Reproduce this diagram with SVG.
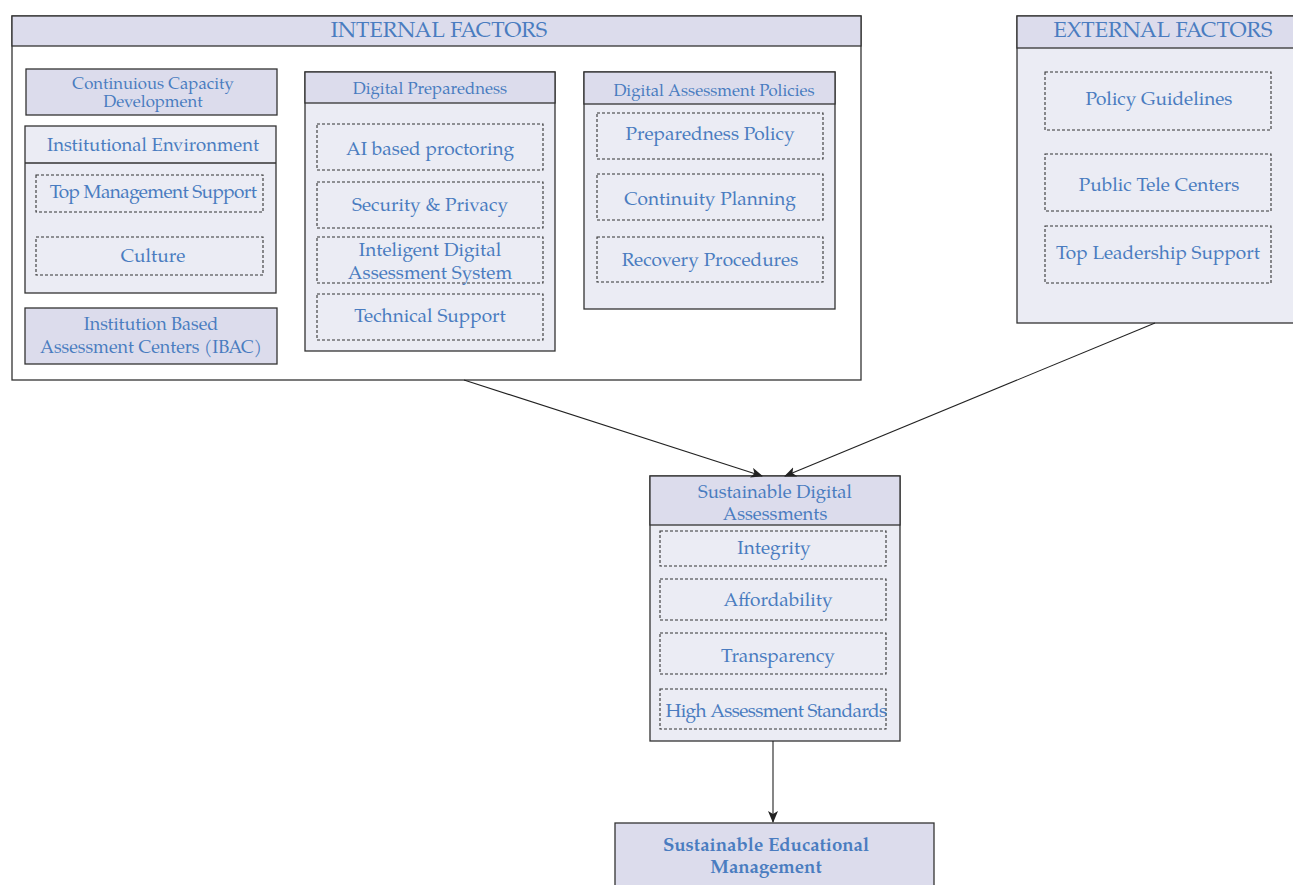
<svg xmlns="http://www.w3.org/2000/svg" width="1293" height="885" viewBox="0 0 1293 885">
<defs>
<style>
text{font-family:"TeX Gyre Pagella","Palatino Linotype","DejaVu Serif","Liberation Serif",serif;fill:#4a7cc0;text-anchor:middle;dominant-baseline:central}
.hd{fill:#dcdcec;stroke:#333;stroke-width:1.3}
.bd{fill:#ebecf4;stroke:#333;stroke-width:1.3}
.wh{fill:#fff;stroke:#333;stroke-width:1.3}
.ds{fill:none;stroke:#333;stroke-width:1.1;stroke-dasharray:3,2}
.t20{font-size:21.8px}
.t19{font-size:19px}
.t18{font-size:18.5px}
.t15{font-size:16.7px}
.b{font-weight:bold}
.cn{stroke:#222;stroke-width:1.1;fill:none}
</style>
<marker id="ah" markerWidth="12" markerHeight="10" refX="11" refY="5" orient="auto" markerUnits="userSpaceOnUse">
<path d="M0,0 L12,5 L0,10 L3,5 Z" fill="#222"/>
</marker>
</defs>

<g id="internal">
<rect class="wh" x="12" y="16" width="849" height="364"/>
<rect class="hd" x="12" y="16" width="849" height="30"/>
<text class="t20" x="439" y="32">INTERNAL FACTORS</text>
</g>

<g id="capacity">
<rect class="hd" x="26" y="69" width="251" height="46"/>
<text class="t15" x="153" y="85">Continuious Capacity</text>
<text class="t15" x="153" y="103">Development</text>
</g>

<g id="institutional">
<rect class="bd" x="25" y="126" width="251" height="167"/>
<line x1="25" y1="163" x2="276" y2="163" stroke="#333" stroke-width="1.3"/>
<text class="t18" x="153" y="147">Institutional Environment</text>
<rect class="ds" x="36" y="175" width="227" height="37"/>
<text class="t19" x="153" y="193" letter-spacing="-0.6">Top Management Support</text>
<rect class="ds" x="36" y="237" width="227" height="38"/>
<text class="t19" x="153" y="257">Culture</text>
</g>

<g id="ibac">
<rect class="hd" x="25" y="308" width="252" height="56"/>
<text class="t18" x="151" y="326" style="font-size:18px">Institution Based</text>
<text class="t18" x="151" y="349" style="font-size:18px">Assessment Centers (IBAC)</text>
</g>

<g id="preparedness">
<rect class="bd" x="305" y="72" width="250" height="279"/>
<rect class="hd" x="305" y="72" width="250" height="31"/>
<text class="t15" x="430" y="90">Digital Preparedness</text>
<rect class="ds" x="317" y="124" width="226" height="46"/>
<text class="t19" x="430" y="150">AI based proctoring</text>
<rect class="ds" x="317" y="182" width="226" height="46"/>
<text class="t19" x="430" y="206">Security &amp; Privacy</text>
<rect class="ds" x="317" y="237" width="226" height="46"/>
<text class="t19" x="430" y="251">Inteligent Digital</text>
<text class="t19" x="430" y="274">Assessment System</text>
<rect class="ds" x="317" y="294" width="226" height="46"/>
<text class="t19" x="430" y="317">Technical Support</text>
</g>

<g id="policies">
<rect class="bd" x="584" y="72" width="251" height="237"/>
<rect class="hd" x="584" y="72" width="251" height="32"/>
<text class="t15" x="714" y="92">Digital Assessment Policies</text>
<rect class="ds" x="597" y="113" width="226" height="46"/>
<text class="t19" x="710" y="135">Preparedness Policy</text>
<rect class="ds" x="597" y="174" width="226" height="46"/>
<text class="t19" x="710" y="200">Continuity Planning</text>
<rect class="ds" x="597" y="237" width="226" height="45"/>
<text class="t19" x="710" y="261">Recovery Procedures</text>
</g>

<g id="external">
<rect class="bd" x="1017" y="16" width="280" height="307"/>
<rect class="hd" x="1017" y="16" width="280" height="32"/>
<text class="t20" x="1163" y="32">EXTERNAL FACTORS</text>
<rect class="ds" x="1045" y="72" width="226" height="58"/>
<text class="t19" x="1159" y="100">Policy Guidelines</text>
<rect class="ds" x="1045" y="154" width="226" height="57"/>
<text class="t19" x="1159" y="186">Public Tele Centers</text>
<rect class="ds" x="1045" y="226" width="226" height="57"/>
<text class="t19" x="1158" y="254">Top Leadership Support</text>
</g>

<g id="sda">
<rect class="bd" x="650" y="476" width="250" height="265"/>
<rect class="hd" x="650" y="476" width="250" height="49"/>
<text class="t18" x="775" y="494">Sustainable Digital</text>
<text class="t18" x="775" y="516">Assessments</text>
<rect class="ds" x="660" y="531" width="226" height="35"/>
<text class="t19" x="774" y="549">Integrity</text>
<rect class="ds" x="660" y="579" width="226" height="41"/>
<text class="t19" x="778" y="601">Affordability</text>
<rect class="ds" x="660" y="633" width="226" height="41"/>
<text class="t19" x="778" y="657">Transparency</text>
<rect class="ds" x="660" y="689" width="226" height="40"/>
<text class="t19" x="776" y="712" letter-spacing="-0.6">High Assessment Standards</text>
</g>

<g id="sem">
<rect class="hd" x="615" y="823" width="319" height="70"/>
<text class="t18 b" x="766" y="847" style="font-size:18.6px">Sustainable Educational</text>
<text class="t18 b" x="766" y="869" style="font-size:18.6px">Management</text>
</g>

<g id="connectors">
<line class="cn" x1="464" y1="380" x2="762" y2="476" marker-end="url(#ah)"/>
<line class="cn" x1="1155" y1="323" x2="785" y2="476" marker-end="url(#ah)"/>
<line class="cn" x1="773" y1="741" x2="773" y2="822" marker-end="url(#ah)"/>
</g>
</svg>
